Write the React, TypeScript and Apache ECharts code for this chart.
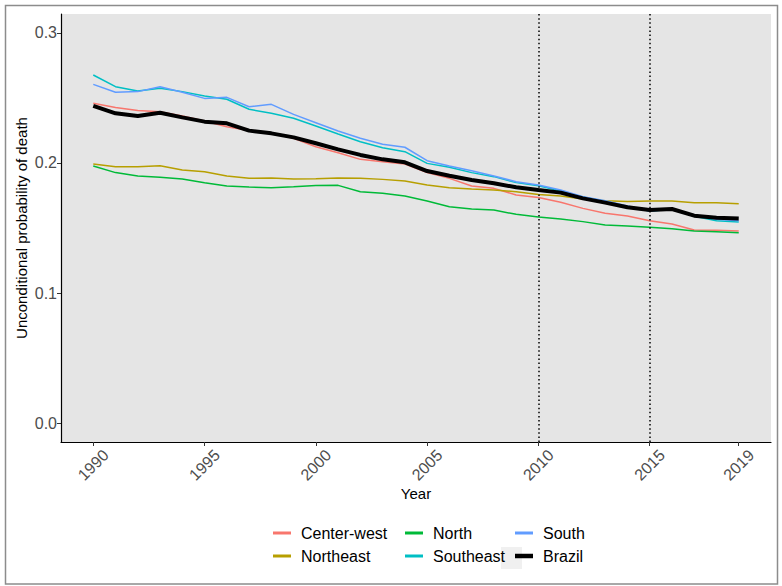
import React, { useEffect, useRef } from "react";
import * as echarts from "echarts";

const years: number[] = [
  1990, 1991, 1992, 1993, 1994, 1995, 1996, 1997, 1998, 1999,
  2000, 2001, 2002, 2003, 2004, 2005, 2006, 2007, 2008, 2009,
  2010, 2011, 2012, 2013, 2014, 2015, 2016, 2017, 2018, 2019,
];

const centerWest: number[] = [
  0.2459, 0.2426, 0.2403, 0.2395, 0.2362, 0.2323, 0.2279, 0.2249, 0.2228, 0.219,
  0.2125, 0.2079, 0.2028, 0.201, 0.1992, 0.1926, 0.1882, 0.1823, 0.1805, 0.1754,
  0.1735, 0.1698, 0.1651, 0.1613, 0.1592, 0.1556, 0.1531, 0.1485, 0.1482, 0.1477,
];
const northeast: number[] = [
  0.1992, 0.1972, 0.1972, 0.1979, 0.1946, 0.1933, 0.19, 0.1882, 0.1885, 0.1877,
  0.1878, 0.1885, 0.1882, 0.1874, 0.1862, 0.1831, 0.181, 0.18, 0.1792, 0.1779,
  0.1758, 0.1746, 0.1723, 0.171, 0.1703, 0.1708, 0.1708, 0.1695, 0.1695, 0.1687,
];
const north: number[] = [
  0.1977, 0.1926, 0.19, 0.189, 0.1877, 0.1848, 0.1823, 0.1815, 0.181, 0.1818,
  0.1827, 0.1828, 0.1779, 0.1767, 0.1746, 0.1708, 0.1664, 0.1646, 0.1638, 0.1605,
  0.1585, 0.1569, 0.1549, 0.1523, 0.1515, 0.1505, 0.1495, 0.1477, 0.1472, 0.1464,
];
const southeast: number[] = [
  0.2677, 0.2587, 0.2554, 0.2574, 0.2549, 0.2515, 0.249, 0.2413, 0.2382, 0.2344,
  0.2285, 0.2223, 0.2164, 0.2118, 0.2087, 0.1997, 0.1967, 0.1926, 0.1895, 0.1849,
  0.1825, 0.1785, 0.1738, 0.1705, 0.1665, 0.163, 0.1643, 0.159, 0.1556, 0.1546,
];
const south: number[] = [
  0.2605, 0.2544, 0.2549, 0.2587, 0.2544, 0.2497, 0.2505, 0.2433, 0.2451, 0.2374,
  0.231, 0.2246, 0.219, 0.2144, 0.2121, 0.2018, 0.1977, 0.1941, 0.19, 0.1856,
  0.183, 0.1792, 0.1741, 0.171, 0.1669, 0.1631, 0.1646, 0.16, 0.1567, 0.1556,
];
const brazil: number[] = [
  0.244, 0.2382, 0.2362, 0.2387, 0.2351, 0.2318, 0.2305, 0.2249, 0.2228, 0.2197,
  0.2152, 0.2105, 0.2062, 0.2028, 0.2005, 0.1938, 0.1902, 0.1869, 0.1844, 0.1813,
  0.1792, 0.1772, 0.1728, 0.1695, 0.1659, 0.1638, 0.1646, 0.1595, 0.1579, 0.1574,
];

const xTickYears: number[] = [1990, 1995, 2000, 2005, 2010, 2015, 2019];
const yTicks: number[] = [0, 0.1, 0.2, 0.3];
const referenceYears: number[] = [2010, 2015];

const regionNames: string[] = ["Center-west", "Northeast", "North", "Southeast", "South"];
const regionValues: number[][] = [centerWest, northeast, north, southeast, south];
const regionColors: string[] = ["#F8766D", "#B79F00", "#00BA38", "#00BFC4", "#619CFF"];

const FONT = "'Liberation Sans', Arial, sans-serif";

export default function App() {
  const ref = useRef<HTMLDivElement>(null);

  useEffect(() => {
    if (!ref.current) return;
    const chart = echarts.init(ref.current, null, { renderer: "svg" });

    const toPairs = (vals: number[]) => years.map((y, i) => [y, vals[i]]);

    const series: any[] = regionNames.map((name, i) => ({
      name,
      type: "line",
      data: toPairs(regionValues[i]),
      symbol: "none",
      color: regionColors[i],
      lineStyle: { color: regionColors[i], width: 1.5 },
      z: 2 + i * 0.1,
    }));
    series.push({
      name: "Brazil",
      type: "line",
      data: toPairs(brazil),
      symbol: "none",
      color: "#000000",
      lineStyle: { color: "#000000", width: 4 },
      z: 3,
      markLine: {
        silent: true,
        symbol: ["none", "none"],
        label: { show: false },
        lineStyle: { color: "#000000", width: 1.5, type: [1.5, 2.6] },
        data: referenceYears.map((y) => ({ xAxis: y })),
      },
    });

    const legendPos = [
      { name: "Center-west", left: 273, top: 525 },
      { name: "Northeast", left: 273, top: 548 },
      { name: "North", left: 405, top: 525 },
      { name: "Southeast", left: 405, top: 548 },
      { name: "South", left: 515, top: 525 },
      { name: "Brazil", left: 515, top: 548 },
    ];

    const legends = legendPos.map((l) => ({
      left: l.left,
      top: l.top,
      padding: 0,
      orient: "horizontal",
      data: [{ name: l.name, icon: "rect" }],
      itemWidth: 18,
      itemHeight: l.name === "Brazil" ? 4.5 : 3,
      selectedMode: false,
      z: 10,
      textStyle: { fontSize: 16, color: "#000000", fontFamily: FONT, padding: [0, 0, 0, 5] },
    }));

    chart.setOption({
      animation: false,
      backgroundColor: "#ffffff",
      textStyle: { fontFamily: FONT },
      grid: {
        left: 61,
        right: 11,
        top: 14,
        bottom: 144,
        show: true,
        backgroundColor: "#E5E5E5",
        borderWidth: 0,
        containLabel: false,
      },
      xAxis: {
        type: "value",
        min: 1988.55,
        max: 2020.45,
        name: "Year",
        nameLocation: "middle",
        nameGap: 44,
        nameMoveOverlap: false,
        nameTextStyle: { fontSize: 15, color: "#000000", fontFamily: FONT },
        splitLine: { show: false },
        axisLine: { show: true, onZero: false, lineStyle: { color: "#000000", width: 1.2 } },
        axisTick: {
          show: true,
          customValues: xTickYears,
          length: 4,
          lineStyle: { color: "#333333", width: 1 },
        },
        axisLabel: {
          customValues: xTickYears,
          rotate: 45,
          align: "center",
          verticalAlign: "middle",
          margin: 23,
          fontSize: 16,
          color: "#4D4D4D",
          fontFamily: FONT,
          formatter: (v: number) => String(v),
        },
      },
      yAxis: {
        type: "value",
        min: -0.0146,
        max: 0.3146,
        name: "Unconditional probability of death",
        nameLocation: "middle",
        nameGap: 32,
        nameMoveOverlap: false,
        nameTextStyle: { fontSize: 15, color: "#000000", fontFamily: FONT },
        splitLine: { show: false },
        axisLine: { show: true, onZero: false, lineStyle: { color: "#000000", width: 1.2 } },
        axisTick: {
          show: true,
          customValues: yTicks,
          length: 4,
          lineStyle: { color: "#333333", width: 1 },
        },
        axisLabel: {
          customValues: yTicks,
          margin: 4,
          fontSize: 16,
          color: "#4D4D4D",
          fontFamily: FONT,
          formatter: (v: number) => v.toFixed(1),
        },
      },
      legend: legends,
      graphic: [
        {
          type: "rect",
          z: 0,
          silent: true,
          shape: { x: 5.5, y: 5.5, width: 772, height: 578.5 },
          style: { fill: "none", stroke: "#8C8C8C", lineWidth: 1.5 },
        },
        {
          type: "rect",
          z: 1,
          silent: true,
          shape: { x: 501, y: 547, width: 21, height: 22 },
          style: { fill: "#F0F0F0" },
        },
      ],
      series,
    });

    return () => chart.dispose();
  }, []);

  return (
    <div
      ref={ref}
      style={{ position: "fixed", left: 0, top: 0, width: 782, height: 586 }}
    />
  );
}
